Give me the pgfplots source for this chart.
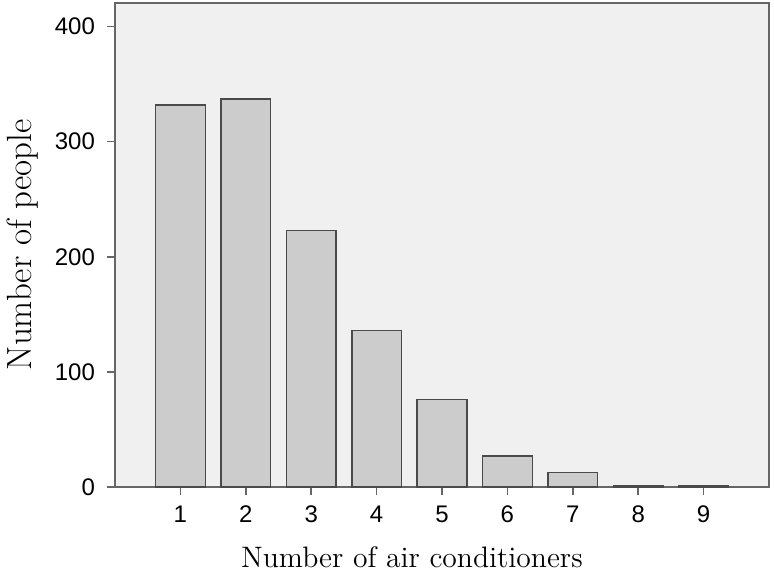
\documentclass[border=0pt]{standalone}
\usepackage{fontspec}
\newfontfamily\ticksans{Liberation Sans}
\usepackage{pgfplots}
\pgfplotsset{compat=1.18}
\definecolor{bgc}{HTML}{F0F0F0}
\definecolor{barc}{HTML}{CCCCCC}
\definecolor{edgec}{HTML}{4A4A4A}
\definecolor{axc}{HTML}{666666}
\begin{document}
\begin{tikzpicture}
\begin{axis}[
  scale only axis,
  width=327pt, height=242pt,
  xmin=0, xmax=10, ymin=0, ymax=420.5,
  axis background/.style={fill=bgc},
  axis line style={axc, line width=0.9pt},
  xtick={1,2,3,4,5,6,7,8,9},
  ytick={0,100,200,300,400},
  tick align=outside,
  major tick length=4pt,
  tick style={axc, line width=0.8pt},
  xtick pos=bottom, ytick pos=left,
  /pgf/number format/assume math mode=true,
  ticklabel style={font=\ticksans\fontsize{12}{14}\selectfont},
  xticklabel style={yshift=-1.8pt},
  yticklabel style={xshift=-2.5pt},
  xlabel={Number of air conditioners},
  ylabel={Number of people},
  xlabel style={font=\fontsize{14.8}{17}\selectfont, at={(axis description cs:0.454,-0.1653)}, anchor=base},
  ylabel style={font=\fontsize{17.5}{20}\selectfont, at={(axis description cs:-0.128,0.5)}, anchor=base},
]
\addplot[ybar, bar width=0.76, fill=barc, draw=edgec, line width=0.75pt]
coordinates {(1,332) (2,337) (3,223) (4,136) (5,76) (6,27) (7,12.4) (8,1.2) (9,1.2)};
\end{axis}
\pgfresetboundingbox
\useasboundingbox ([shift={(-57.5pt,-42pt)}]current axis.south west) rectangle ([shift={(2.5pt,1.5pt)}]current axis.north east);
\end{tikzpicture}
\end{document}
